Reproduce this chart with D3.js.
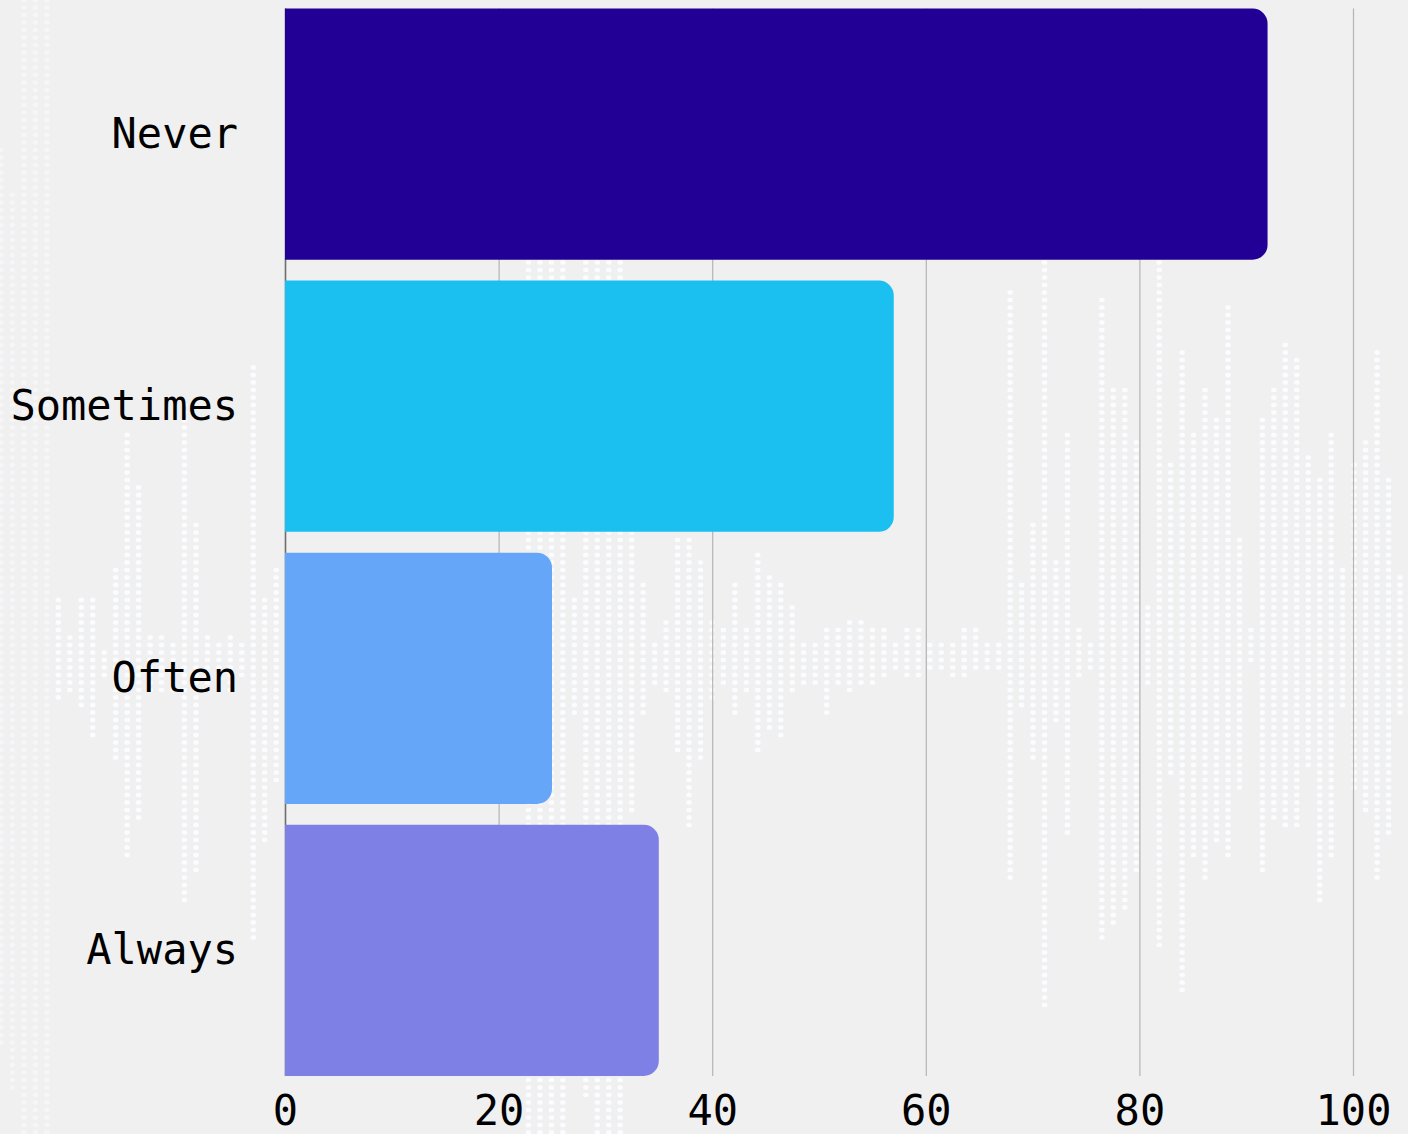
<!DOCTYPE html>
<html>
<head>
<meta charset="utf-8">
<script src="https://cdn.jsdelivr.net/npm/d3@7"></script>
<style>
  html, body { margin: 0; padding: 0; background: #f0f0f0; }
  svg { display: block; }
</style>
</head>
<body>
<div id="chart"></div>
<script>
// ---- Data ----
const categories = ["Never", "Sometimes", "Often", "Always"];
const values = [92, 57, 25, 35];
const barColors = ["#220096", "#1bbff0", "#65a6f8", "#7f80e6"];
const xTicks = [0, 20, 40, 60, 80, 100];

// Decorative background waveform: [top, bottom] extent of each dotted column (page units)
const waveColumns = [
  [145,1048],[195,1090],[0,1134],[0,1134],[0,1134],
  [600,701],[636,694],[600,712],[600,737],[647,676],[564,759],[434,860],[484,824],[636,694],[636,694],
  [640,690],[405,904],[520,875],[636,694],[644,680],[636,694],[644,680],[361,940],[593,846],[564,781],
  [590,730],[600,720],[590,730],[600,720],[590,730],[600,720],[590,730],[600,720],[590,730],[600,720],
  [590,730],[600,720],[590,730],[600,720],[590,730],[600,720],[590,730],[600,720],[590,730],[600,720],[590,730],
  [230,1134],[200,1134],[200,1134],[200,1134],[594,718],[200,1100],[200,1134],[200,1134],[200,1134],[532,814],
  [583,718],[639,684],[616,695],[537,752],[537,831],[560,763],[616,701],[628,684],[583,718],[628,690],
  [549,752],[571,729],[583,740],[605,695],[639,684],[639,684],[628,718],[628,684],[616,695],[616,684],
  [628,684],[628,679],[639,673],
  [630,679],[627,681],[638,671],[638,671],[638,679],[627,679],[627,669],[638,669],[638,669],[286,883],
  [582,712],[523,758],[260,1010],[556,722],[431,837],[625,679],[638,669],[296,939],[385,929],[385,908],
  [441,872],[602,689],[260,951],[464,778],[349,997],[429,860],[385,883],[418,847],[304,860],[533,791],
  [628,666],[418,870],[385,821],[339,827],[360,827],[451,765],[474,903],[429,857],[566,709],[462,791],
  [441,811],[347,883],[474,837],[577,719]
];

// ---- Layout ----
const W = 1408, H = 1134;
const margin = { top: 8.5, right: 55, bottom: 58, left: 285 };

const svg = d3.select("#chart").append("svg")
  .attr("width", W).attr("height", H);

svg.append("rect").attr("width", W).attr("height", H).attr("fill", "#f0f0f0");

// ---- Background waveform (decorative) ----
const waveX = d3.scaleLinear().domain([0, waveColumns.length - 1]).range([1, 1400]);
const waveY = d3.scaleLinear().domain([0, 1134]).range([0, H]);
const rowPitch = 7.5;
const dots = [];
waveColumns.forEach((c, i) => {
  const t = waveY(c[0]), b = waveY(c[1]);
  for (let y = Math.ceil(t / rowPitch) * rowPitch; y <= b; y += rowPitch) {
    dots.push({ x: waveX(i), y: y, faint: i < 5 });
  }
});
svg.append("g").selectAll("rect").data(dots).join("rect")
  .attr("x", d => d.x - 2.75).attr("y", d => d.y - 2.25)
  .attr("width", 5.5).attr("height", 4.5).attr("rx", 1.8)
  .attr("fill", "#fbfcff")
  .attr("opacity", d => d.faint ? 0.5 : 0.95);

// ---- Scales ----
const x = d3.scaleLinear().domain([0, 100]).range([margin.left, W - margin.right]);
const y = d3.scaleBand().domain(categories)
  .range([margin.top, H - margin.bottom])
  .paddingInner(0.077).paddingOuter(0);

// ---- Gridlines ----
const grid = svg.append("g");
grid.selectAll("line").data(xTicks).join("line")
  .attr("x1", d => x(d) + 0.5).attr("x2", d => x(d) + 0.5)
  .attr("y1", margin.top).attr("y2", H - margin.bottom)
  .attr("stroke", d => d === 0 ? "#6e6e6e" : "#b4b4b4")
  .attr("stroke-width", d => d === 0 ? 1.6 : 1.2);

// ---- Bars (right corners rounded) ----
const r = 15;
function barPath(x0, x1, y0, h) {
  const rr = Math.min(r, (x1 - x0) / 2, h / 2);
  return `M${x0},${y0}H${x1 - rr}A${rr},${rr} 0 0 1 ${x1},${y0 + rr}` +
         `V${y0 + h - rr}A${rr},${rr} 0 0 1 ${x1 - rr},${y0 + h}H${x0}Z`;
}
svg.append("g").selectAll("path")
  .data(categories.map((c, i) => ({ c, v: values[i], color: barColors[i] })))
  .join("path")
  .attr("d", d => barPath(x(0), x(d.v), y(d.c), y.bandwidth()))
  .attr("fill", d => d.color);

// ---- Axes ----
const font = "'DejaVu Sans Mono', 'Liberation Mono', monospace";

const xAxis = svg.append("g")
  .attr("transform", `translate(0,${H - margin.bottom})`)
  .call(d3.axisBottom(x).tickValues(xTicks).tickSize(0).tickPadding(19).tickFormat(d3.format("d")));
xAxis.select(".domain").remove();
xAxis.selectAll("text")
  .attr("font-family", font).attr("font-size", 42).attr("fill", "#000")
  .attr("dy", "0.71em");

const yAxis = svg.append("g")
  .attr("transform", `translate(${margin.left},0)`)
  .call(d3.axisLeft(y).tickSize(0).tickPadding(47));
yAxis.select(".domain").remove();
yAxis.selectAll("text")
  .attr("font-family", font).attr("font-size", 42).attr("fill", "#000");
</script>
</body>
</html>
